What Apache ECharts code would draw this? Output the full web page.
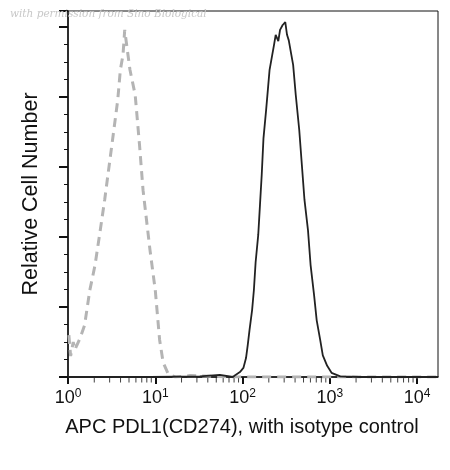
<!DOCTYPE html>
<html><head><meta charset="utf-8">
<script src="https://cdn.jsdelivr.net/npm/echarts@6/dist/echarts.min.js"></script>
<style>html,body{margin:0;padding:0;background:#fff}#c{width:450px;height:470px}</style>
</head><body><div id="c"></div>
<script>
// x values are decades (log10 of fluorescence intensity)
var isoDecade = [0.01,0.03,0.06,0.08,0.10,0.14,0.19,0.25,0.31,0.37,0.42,0.48,0.54,0.57,0.60,0.63,0.65,0.68,0.71,0.77,0.82,0.86,0.90,0.94,1.00,1.05,1.09,1.15,1.23,1.40,1.86,2.66,4.24];
var isoCount  = [0.6,0.3,0.5,0.39,0.45,0.56,0.74,1.24,1.6,2.1,2.53,3.1,3.67,3.96,4.39,4.6,4.96,4.67,4.39,4.03,3.31,2.67,2.24,1.81,1.24,0.53,0.21,0.04,0,0.02,0,0,0];
var pdDecade = [0,0.94,1.51,1.74,1.89,1.92,1.97,2.01,2.04,2.06,2.08,2.11,2.13,2.15,2.18,2.20,2.22,2.24,2.27,2.29,2.31,2.34,2.36,2.38,2.41,2.43,2.46,2.49,2.51,2.53,2.56,2.58,2.61,2.65,2.68,2.71,2.75,2.78,2.82,2.85,2.89,2.92,2.97,3.02,3.12,3.34,4.24];
var pdCount  = [0,0,0.01,0.03,0,0.03,0.07,0.13,0.27,0.46,0.67,0.96,1.24,1.64,2.03,2.46,2.89,3.41,3.81,4.1,4.39,4.6,4.74,4.89,4.8,4.96,5.03,5.07,4.89,4.81,4.6,4.46,4.03,3.53,3.03,2.53,2.1,1.6,1.17,0.81,0.53,0.31,0.16,0.06,0.01,0,0];
var tickLabels = ['0','1','2','3','4'];
var xTitle = 'APC PDL1(CD274), with isotype control';
var yTitle = 'Relative Cell Number';

function zip(a,b){return a.map(function(v,i){return [v,b[i]];});}
var minor = [];
for (var n=0;n<5;n++) for (var k=2;k<=9;k++){var v=n+Math.log10(k); if(v<4.24) minor.push([v,0]);}

var chart = echarts.init(document.getElementById('c'));
chart.setOption({
  animation:false,
  graphic:[{type:'text',left:10,top:9,z:100,style:{text:'with permission from Sino Biological',fill:'#c8c8c8',font:'italic 10.5px "DejaVu Serif"'}}],
  grid:{left:68,right:12,top:11,bottom:93,show:true,borderColor:'#111',borderWidth:1},
  xAxis:{type:'value',min:0,max:4.24,interval:1,
    name:xTitle,nameLocation:'middle',nameGap:40,nameTextStyle:{color:'#111',fontSize:20,fontFamily:'Liberation Sans',padding:[0,22,0,0]},
    axisLine:{lineStyle:{color:'#111',width:1.5}},
    axisTick:{length:7,lineStyle:{color:'#111',width:2}},
    splitLine:{show:false},
    axisLabel:{color:'#111',margin:11,fontFamily:'Liberation Sans',
      formatter:function(v){return '{b|10}{s|'+tickLabels[Math.round(v)]+'}';},
      rich:{b:{fontSize:18,color:'#111',fontFamily:'Liberation Sans'},s:{fontSize:12,color:'#111',verticalAlign:'top',padding:[0,0,9,0],fontFamily:'Liberation Sans'}}}},
  yAxis:{type:'value',min:0,max:5.23,interval:1,
    name:yTitle,nameLocation:'middle',nameGap:26,nameTextStyle:{color:'#111',fontSize:21.5,fontFamily:'Liberation Sans'},
    axisLine:{show:true,lineStyle:{color:'#111',width:1.5}},
    axisTick:{show:true,length:9,lineStyle:{color:'#111',width:2}},
    minorTick:{show:true,splitNumber:4,length:4,lineStyle:{color:'#111',width:1}},
    axisLabel:{show:false},splitLine:{show:false}},
  series:[
    {type:'scatter',data:minor,symbol:'rect',symbolSize:[1,5],symbolOffset:[0,3],itemStyle:{color:'#111'},silent:true,clip:false,z:1},
    {type:'line',data:zip(isoDecade,isoCount),showSymbol:false,lineStyle:{color:'#b4b4b4',width:3,type:[9,6]},z:2},
    {type:'line',data:zip(pdDecade,pdCount),showSymbol:false,lineStyle:{color:'#222',width:1.8},z:3}
  ]
});
</script></body></html>
